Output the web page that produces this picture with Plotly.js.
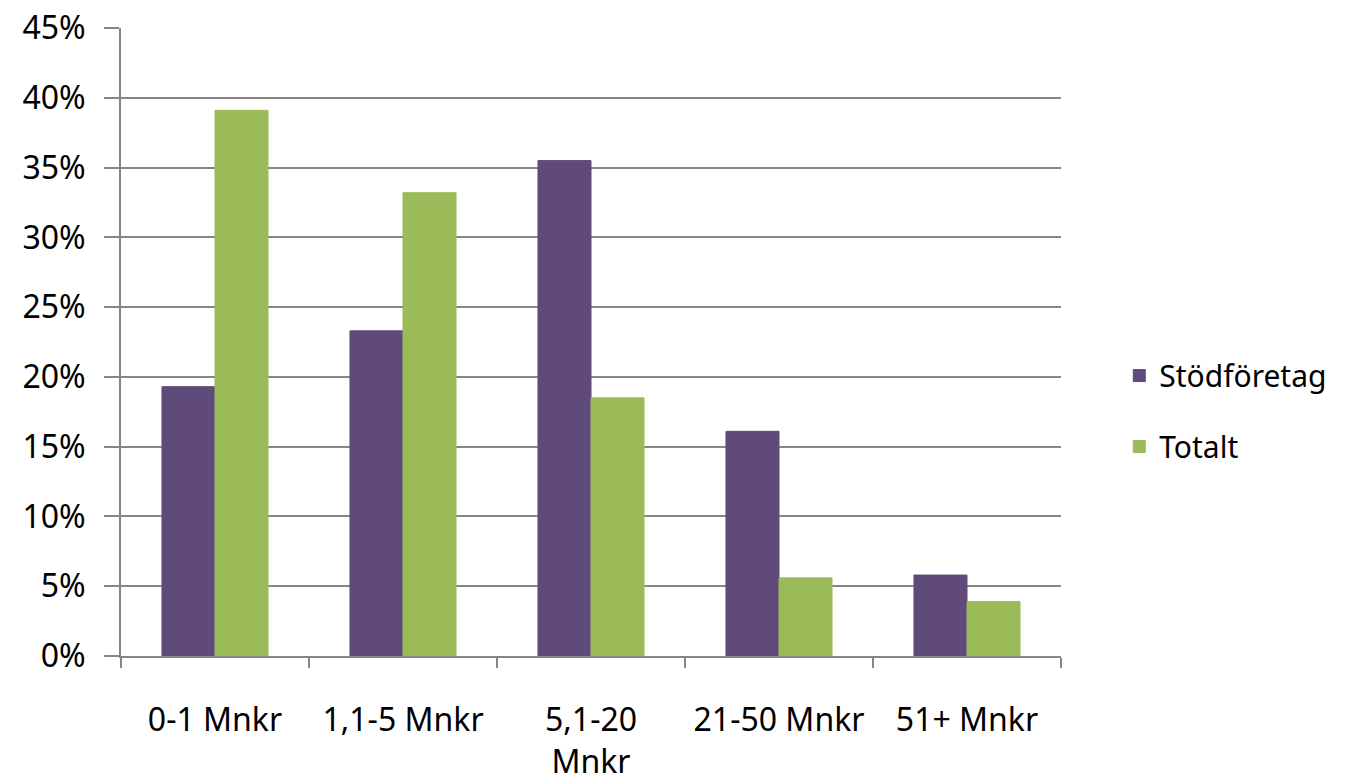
<!DOCTYPE html>
<html>
<head>
<meta charset="utf-8">
<script src="https://cdn.plot.ly/plotly-3.0.1.min.js"></script>
<style>html,body{margin:0;padding:0;background:#fff;}#chart{width:1346px;height:781px;}</style>
</head>
<body>
<div id="chart"></div>
<script>
const categories = ["0-1 Mnkr", "1,1-5 Mnkr", "5,1-20<br>Mnkr", "21-50 Mnkr", "51+ Mnkr"];
const stodforetag = [0.193, 0.233, 0.355, 0.161, 0.058];
const totalt = [0.391, 0.332, 0.185, 0.056, 0.039];
const yTickVals = [0, 0.05, 0.10, 0.15, 0.20, 0.25, 0.30, 0.35, 0.40, 0.45];
const yTickText = ["0%", "5%", "10%", "15%", "20%", "25%", "30%", "35%", "40%", "45%"];

const font = "Noto Sans, Open Sans, sans-serif";
const gray = "#868686";
const fs = 32;

const data = [
  {type: "bar", name: "Stödföretag", x: categories, y: stodforetag,
   marker: {color: "#604A7B", line: {color: "#604A7B", width: 1}}, legendgroup: "a"},
  {type: "bar", name: "Totalt", x: categories, y: totalt,
   marker: {color: "#9BBB59", line: {color: "#9BBB59", width: 1}}, legendgroup: "b"}
];

const layout = {
  width: 1346, height: 781,
  margin: {l: 121, r: 285, t: 28, b: 125},
  paper_bgcolor: "#fff", plot_bgcolor: "#fff",
  font: {family: font, size: fs, color: "#000"},
  barmode: "group",
  bargap: 0.436, bargroupgap: 0,
  showlegend: true,
  legend: {x: 1.062, xanchor: "left", y: 0.39, yanchor: "middle",
           font: {family: font, size: 30, color: "#000"}, tracegroupgap: 29,
           itemwidth: 30, borderwidth: 0},
  xaxis: {
    type: "category", tickson: "boundaries", ticks: "outside", ticklen: 10,
    tickwidth: 2, tickcolor: gray, showline: true, linecolor: gray, linewidth: 2,
    showgrid: false, tickfont: {family: font, size: fs}, fixedrange: true,
    tickangle: 0, ticklabelstandoff: 35, automargin: false
  },
  yaxis: {
    range: [0, 0.45], tickvals: yTickVals, ticktext: yTickText,
    ticks: "outside", ticklen: 15, tickwidth: 2, tickcolor: gray,
    showline: true, linecolor: gray, linewidth: 2,
    showgrid: true, gridcolor: gray, gridwidth: 2, zeroline: false,
    ticklabelstandoff: 12, automargin: false,
    tickfont: {family: font, size: fs}, fixedrange: true
  }
};

Plotly.newPlot("chart", data, layout, {displayModeBar: false, staticPlot: true});
</script>
</body>
</html>
